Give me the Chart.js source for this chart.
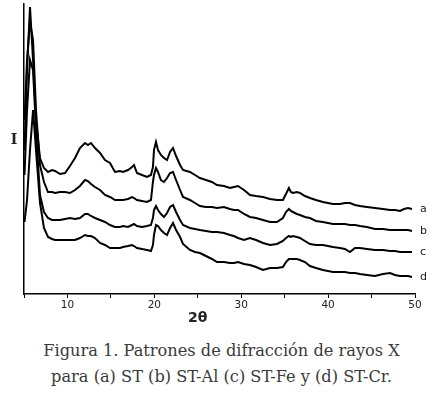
<!DOCTYPE html>
<html>
<head>
<meta charset="utf-8">
<script src="https://cdn.jsdelivr.net/npm/chart.js@4.4.0/dist/chart.umd.min.js"></script>
<style>
  html, body { margin: 0; padding: 0; background: #fff; }
  #wrap { position: relative; width: 443px; height: 397px; overflow: hidden; }
  #chart { position: absolute; left: 0; top: 0; }
  .cap { position: absolute; left: 0; width: 443px; text-align: center;
         font-family: "DejaVu Serif", serif; font-size: 16.2px; color: #3a3a3a; white-space: nowrap; }
</style>
</head>
<body>
<div id="wrap">
  <canvas id="chart" width="443" height="330"></canvas>
  <div class="cap" style="top:341px">Figura 1. Patrones de difracción de rayos X</div>
  <div class="cap" style="top:367px">para (a) ST (b) ST-Al (c) ST-Fe y (d) ST-Cr.</div>
</div>
<script>
// 2θ positions (degrees)
const twoTheta = [5.06, 5.35, 5.69, 6.04, 6.38, 6.84, 7.30, 7.76, 8.22, 8.57,
  9.14, 9.72, 10.29, 10.87, 11.44, 12.02, 12.36, 12.71, 13.17, 13.75,
  14.32, 14.90, 15.47, 16.05, 16.39, 16.97, 17.43, 17.66, 18.00, 18.58,
  19.15, 19.61, 19.84, 19.96, 20.19, 20.42, 20.76, 21.11, 21.46, 21.81,
  22.15, 22.50, 22.96, 23.30, 24.10, 24.68, 25.25, 25.94, 26.63, 27.21,
  28.01, 28.70, 29.16, 29.63, 30.32, 31.01, 31.70, 32.51, 33.31, 34.11,
  34.80, 35.15, 35.49, 35.72, 35.95, 36.41, 36.76, 37.33, 37.91, 38.60,
  39.40, 39.98, 40.55, 41.36, 41.94, 42.51, 43.09, 43.67, 44.47, 45.39,
  46.31, 47.12, 47.69, 48.27, 48.73, 49.19, 49.65];

// intensities (arbitrary units, curves offset)
const seriesA = [144, 224, 287, 234, 174, 136, 126, 122, 124, 123,
  120, 121, 128, 136, 146, 151, 149, 151, 146, 141,
  134, 131, 122, 123, 122, 124, 127, 129, 121, 119,
  117, 119, 127, 144, 152, 144, 139, 136, 134, 142,
  146, 138, 129, 124, 122, 119, 116, 114, 112, 109,
  108, 106, 107, 108, 104, 99, 98, 97, 95, 94,
  94, 100, 106, 102, 101, 102, 101, 98, 96, 94,
  92, 91, 90, 90, 91, 91, 89, 88, 87, 86,
  85, 84, 84, 83, 85, 86, 85];
const seriesB = [174, 234, 272, 254, 184, 129, 112, 102, 102, 101,
  102, 102, 101, 104, 108, 114, 113, 110, 107, 104,
  99, 97, 94, 94, 94, 95, 97, 96, 94, 93,
  92, 94, 112, 119, 126, 122, 114, 112, 116, 121,
  122, 114, 104, 97, 94, 91, 88, 87, 87, 86,
  87, 85, 84, 84, 80, 77, 76, 74, 72, 72,
  76, 82, 85, 83, 82, 80, 79, 77, 76, 73,
  72, 71, 70, 70, 70, 69, 69, 68, 67, 65,
  65, 64, 64, 64, 64, 64, 63];
const seriesC = [119, 184, 234, 224, 164, 99, 82, 76, 74, 74,
  74, 75, 76, 75, 76, 80, 80, 78, 76, 74,
  72, 69, 67, 67, 68, 67, 69, 70, 68, 67,
  68, 69, 76, 84, 88, 84, 80, 77, 81, 87,
  89, 82, 74, 69, 66, 65, 64, 63, 62, 62,
  61, 59, 58, 56, 54, 56, 54, 51, 49, 50,
  53, 56, 58, 57, 58, 57, 56, 53, 50, 49,
  49, 48, 47, 46, 45, 42, 46, 46, 45, 44,
  44, 43, 43, 42, 42, 42, 42];
const seriesD = [72, 94, 144, 184, 144, 91, 66, 57, 55, 54,
  54, 54, 54, 54, 56, 59, 58, 58, 56, 51,
  49, 46, 46, 46, 47, 48, 49, 48, 46, 45,
  44, 43, 49, 59, 69, 68, 64, 61, 59, 66,
  71, 64, 57, 50, 44, 42, 41, 38, 35, 32,
  32, 31, 31, 32, 30, 29, 27, 24, 26, 26,
  27, 32, 35, 35, 35, 35, 34, 32, 28, 26,
  24, 23, 22, 22, 22, 21, 21, 20, 19, 18,
  20, 21, 19, 18, 18, 18, 17];

const curveLabels = ["a", "b", "c", "d"];
const xTicks = [10, 20, 30, 40, 50];

const toPoints = vals => twoTheta.map((t, i) => ({ x: t, y: vals[i] }));

// labels a-d at curve ends, "I" and "2θ"
const annotate = {
  id: "annotate",
  afterDraw(chart) {
    const ctx = chart.ctx;
    const xs = chart.scales.x;
    ctx.save();
    ctx.fillStyle = "#222";
    ctx.textBaseline = "middle";
    ctx.font = "11px 'DejaVu Sans'";
    ctx.textAlign = "left";
    chart.data.datasets.forEach((ds, i) => {
      const meta = chart.getDatasetMeta(i);
      const last = meta.data[meta.data.length - 1];
      ctx.fillText(curveLabels[i], last.x + 8, last.y);
    });
    ctx.textAlign = "center";
    ctx.font = "bold 14px 'DejaVu Sans'";
    ctx.fillText("2θ", xs.getPixelForValue(25), 318);
    ctx.font = "bold 14px 'DejaVu Serif'";
    ctx.fillText("I", 14, 140);
    ctx.restore();
  }
};

new Chart(document.getElementById("chart"), {
  type: "line",
  data: {
    datasets: [seriesA, seriesB, seriesC, seriesD].map(v => ({
      data: toPoints(v),
      borderColor: "#000",
      borderWidth: 2,
      pointRadius: 0,
      tension: 0,
      fill: false
    }))
  },
  options: {
    responsive: false,
    animation: false,
    layout: { padding: { top: 4, right: 28, left: 0, bottom: 0 } },
    plugins: { legend: { display: false }, tooltip: { enabled: false } },
    scales: {
      x: {
        type: "linear",
        min: 5,
        max: 50,
        afterFit: s => { s.height = 36; },
        ticks: {
          stepSize: 5,
          autoSkip: false,
          maxRotation: 0,
          padding: 1,
          color: "#222",
          font: { family: "DejaVu Sans", size: 10.5 },
          callback: v => xTicks.includes(v) ? String(v) : ""
        },
        grid: { drawOnChartArea: false, drawTicks: true, tickLength: 4, color: "#000" },
        border: { color: "#000", width: 1.5 }
      },
      y: {
        min: 0,
        max: 290,
        afterFit: s => { s.width = 24; },
        ticks: { display: false },
        grid: { drawOnChartArea: false, drawTicks: false },
        border: { color: "#000", width: 1.5 }
      }
    }
  },
  plugins: [annotate]
});
</script>
</body>
</html>
